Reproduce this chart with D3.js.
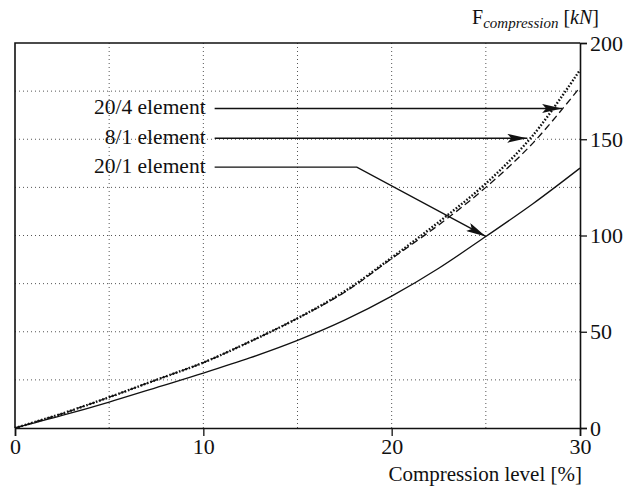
<!DOCTYPE html>
<html>
<head>
<meta charset="utf-8">
<script src="https://cdn.jsdelivr.net/npm/d3@7"></script>
<style>
  body { margin: 0; background: #fff; }
  svg { display: block; }
  text { font-family: "Liberation Serif", "DejaVu Serif", serif; fill: #111; }
</style>
</head>
<body>
<svg width="628" height="490"></svg>
<script>
// compression level [%]
var xValues = [0, 2.5, 5, 7.5, 10, 12.5, 15, 17.5, 20, 22.5, 25, 27.5, 30];
// F compression [kN]
var el20x4 = [0, 7.5, 16, 25, 34, 45, 57, 71, 88.5, 107, 127, 152, 186];
var el8x1  = [0, 7.5, 16, 25, 34, 45, 57, 70.5, 88, 105.5, 125, 148, 177];
var el20x1 = [0, 6.5, 13.5, 21, 28.5, 36.5, 45.5, 56, 68.5, 83, 99.5, 116.5, 135];

var xTicks = [0, 10, 20, 30];
var yTicks = [0, 50, 100, 150, 200];
var xGrid = [5, 10, 15, 20, 25];
var yGrid = [25, 50, 75, 100, 125, 150, 175];

// labels with arrows: label y, where line starts, bend, and tip (data units)
var labels = ["20/4 element", "8/1 element", "20/1 element"];
var labelY = [166, 150.5, 135.5];
var arrowStartX = [10.6, 10.6, 10.6];
var arrowBend = [null, null, [18.15, 135.5]];
var arrowTip = [[29.05, 166], [27.2, 150.5], [25, 99.5]];

var svg = d3.select("svg");
var x = d3.scaleLinear().domain([0, 30]).range([15, 580]);
var y = d3.scaleLinear().domain([0, 200]).range([428, 43]);

// grid
svg.append("g").selectAll("line").data(xGrid).enter().append("line")
    .attr("x1", function(d) { return x(d); }).attr("x2", function(d) { return x(d); })
    .attr("y1", y(0)).attr("y2", y(200))
    .attr("stroke", "#555").attr("stroke-width", 1).attr("stroke-dasharray", "1,3");
svg.append("g").selectAll("line").data(yGrid).enter().append("line")
    .attr("y1", function(d) { return y(d); }).attr("y2", function(d) { return y(d); })
    .attr("x1", x(0)).attr("x2", x(30))
    .attr("stroke", "#555").attr("stroke-width", 1).attr("stroke-dasharray", "1,3");

// axes
var xAxis = svg.append("g").attr("transform", "translate(0," + y(0) + ")")
    .call(d3.axisBottom(x).tickValues(xTicks).tickSize(8).tickPadding(2).tickFormat(d3.format("d")));
var yAxis = svg.append("g").attr("transform", "translate(" + x(30) + ",0)")
    .call(d3.axisRight(y).tickValues(yTicks).tickSize(7).tickPadding(3).tickFormat(d3.format("d")));
[xAxis, yAxis].forEach(function(a) {
  a.select(".domain").attr("stroke", "#111").attr("stroke-width", 1.6);
  a.selectAll(".tick line").attr("stroke", "#111").attr("stroke-width", 1.3);
  a.selectAll("text").attr("font-family", "Liberation Serif, serif").attr("font-size", 22).attr("fill", "#111");
});

// frame top + left
svg.append("path")
    .attr("d", "M" + x(0) + "," + y(0) + "V" + y(200) + "H" + x(30))
    .attr("fill", "none").attr("stroke", "#111").attr("stroke-width", 1.6);

// curves
var line = d3.line().curve(d3.curveCatmullRom);
function pts(ys) { return xValues.map(function(v, i) { return [x(v), y(ys[i])]; }); }

svg.append("path").attr("d", line(pts(el20x1)))
    .attr("fill", "none").attr("stroke", "#111").attr("stroke-width", 1.3);
svg.append("path").attr("d", line(pts(el8x1)))
    .attr("fill", "none").attr("stroke", "#111").attr("stroke-width", 1.3).attr("stroke-dasharray", "7,4");
svg.append("path").attr("d", line(pts(el20x4)))
    .attr("fill", "none").attr("stroke", "#111").attr("stroke-width", 2.4).attr("stroke-dasharray", "1.6,1.8");

// arrows
svg.append("defs").append("marker")
    .attr("id", "head").attr("viewBox", "0 0 20 9").attr("refX", 20).attr("refY", 4.5)
    .attr("markerWidth", 20).attr("markerHeight", 9).attr("markerUnits", "userSpaceOnUse")
    .attr("orient", "auto")
  .append("path").attr("d", "M0,0L20,4.5L0,9L4,4.5Z").attr("fill", "#111");

labels.forEach(function(t, i) {
  var p = [[x(arrowStartX[i]), y(labelY[i])]];
  if (arrowBend[i]) p.push([x(arrowBend[i][0]), y(arrowBend[i][1])]);
  p.push([x(arrowTip[i][0]), y(arrowTip[i][1])]);
  svg.append("path").attr("d", d3.line()(p))
      .attr("fill", "none").attr("stroke", "#111").attr("stroke-width", 1.4)
      .attr("marker-end", "url(#head)");
  svg.append("text").attr("x", x(arrowStartX[i]) - 9).attr("y", y(labelY[i]) + 6)
      .attr("text-anchor", "end").attr("font-size", 21.5).text(t);
});

// axis titles
var yt = svg.append("text").attr("x", 599).attr("y", 24).attr("text-anchor", "end").attr("font-size", 20);
yt.append("tspan").text("F");
yt.append("tspan").attr("font-style", "italic").attr("font-size", 15).attr("dy", 4).text("compression");
yt.append("tspan").attr("dy", -4).text(" [");
yt.append("tspan").attr("font-style", "italic").text("kN");
yt.append("tspan").text("]");

svg.append("text").attr("x", 582).attr("y", 481).attr("text-anchor", "end")
    .attr("font-size", 21).text("Compression level [%]");
</script>
</body>
</html>
